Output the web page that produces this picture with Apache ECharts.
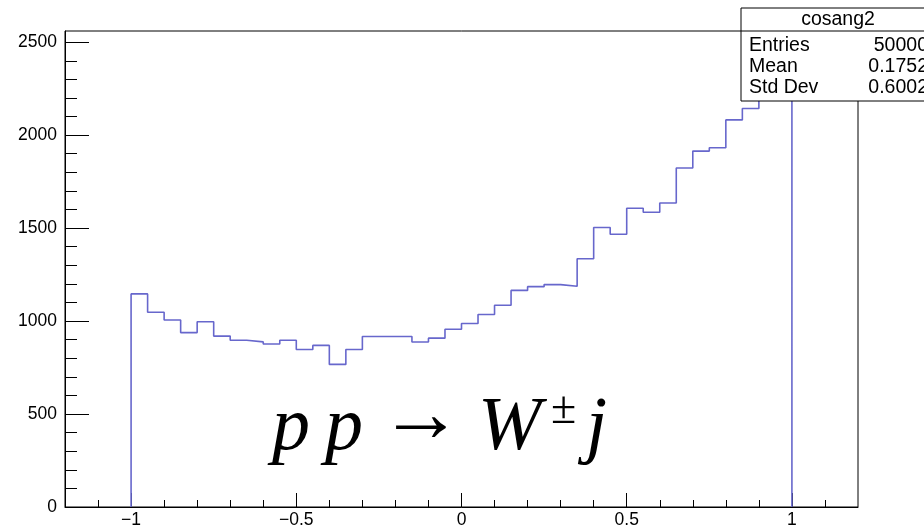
<!DOCTYPE html>
<html>
<head>
<meta charset="utf-8">
<script src="https://cdn.jsdelivr.net/npm/echarts@6/dist/echarts.min.js"></script>
<style>
html,body{margin:0;padding:0;background:#fff;}
#chart{width:924px;height:529px;}
</style>
</head>
<body>
<div id="chart"></div>
<script>
// ---- data ----
const binLow = -1;
const binWidth = 0.05;
const counts = [1146,1047,1006,938,996,919,897,888,877,897,
                847,869,767,847,917,917,917,887,908,956,
                987,1035,1085,1165,1185,1196,1187,1335,1503,1467,
                1607,1585,1635,1823,1914,1932,2082,2143,2254,2437];
const xMajorTicks = [-1, -0.5, 0, 0.5, 1];
const xMinorTicks = [-1.1,-0.9,-0.8,-0.7,-0.6,-0.4,-0.3,-0.2,-0.1,0.1,0.2,0.3,0.4,0.6,0.7,0.8,0.9,1.1];
const yMajorTicks = [0, 500, 1000, 1500, 2000, 2500];
const yMinorTicks = [100,200,300,400,600,700,800,900,1100,1200,1300,1400,1600,1700,1800,1900,2100,2200,2300,2400];
const statsTitle = 'cosang2';
const statsLabels = ['Entries', 'Mean', 'Std Dev'];
const statsValues = ['50000', '0.1752', '0.6002'];

// ---- build ----
const histData = [[binLow, 0]];
counts.forEach((c, i) => histData.push([binLow + i * binWidth, c]));
histData.push([binLow + counts.length * binWidth, counts[counts.length - 1]]);
histData.push([binLow + counts.length * binWidth, 0]);

const fmt = v => (v < 0 ? '\u2212' + (-v) : String(v));
const labelFont = {fontFamily: 'Liberation Sans', fontSize: 17.5, color: '#000'};

const chart = echarts.init(document.getElementById('chart'), null, {renderer: 'canvas'});

const graphics = [];
// stats box
graphics.push({type: 'rect', z: 100, shape: {x: 741, y: 8, width: 195, height: 93},
  style: {fill: '#fff', stroke: '#000', lineWidth: 1}});
graphics.push({type: 'line', z: 101, shape: {x1: 741, y1: 31, x2: 936, y2: 31},
  style: {stroke: '#000', lineWidth: 1}});
graphics.push({type: 'text', z: 102, x: 838, y: 20,
  style: {text: statsTitle, fontFamily: 'Liberation Sans', fontSize: 19.5, fill: '#000', align: 'center', verticalAlign: 'middle'}});
statsLabels.forEach((l, i) => {
  graphics.push({type: 'text', z: 102, x: 749, y: 46 + i * 21,
    style: {text: l, fontFamily: 'Liberation Sans', fontSize: 19.5, fill: '#000', align: 'left', verticalAlign: 'middle'}});
  graphics.push({type: 'text', z: 102, x: 928, y: 46 + i * 21,
    style: {text: statsValues[i], fontFamily: 'Liberation Sans', fontSize: 19.5, fill: '#000', align: 'right', verticalAlign: 'middle'}});
});
// formula
const serifIt = {fontFamily: 'Liberation Serif', fontStyle: 'italic', fontSize: 76, fill: '#000', verticalAlign: 'top'};
graphics.push({type: 'text', z: 50, x: 272, y: 391, style: Object.assign({text: 'p'}, serifIt)});
graphics.push({type: 'text', z: 50, x: 325, y: 391, style: Object.assign({text: 'p'}, serifIt)});
graphics.push({type: 'text', z: 50, x: 379, y: 377, style: {text: '\u2192', fontFamily: 'Liberation Serif', fontSize: 84, fill: '#000', verticalAlign: 'top'}});
graphics.push({type: 'text', z: 50, x: 478, y: 391, style: Object.assign({text: 'W'}, serifIt)});
graphics.push({type: 'text', z: 50, x: 551, y: 388, style: {text: '\u00B1', fontFamily: 'Liberation Serif', fontSize: 46, fill: '#000', verticalAlign: 'top'}});
graphics.push({type: 'text', z: 50, x: 586, y: 391, style: Object.assign({text: 'j'}, serifIt)});

const option = {
  animation: false,
  backgroundColor: '#fff',
  grid: {left: 65, right: 66, top: 31, bottom: 21, show: true, borderColor: '#000', borderWidth: 1, backgroundColor: 'transparent'},
  xAxis: [
    {type: 'value', min: -1.2, max: 1.2, position: 'bottom',
     axisLine: {show: true, onZero: false, lineStyle: {color: '#000', width: 1}},
     axisTick: {show: true, inside: true, length: 14, customValues: xMajorTicks, lineStyle: {color: '#000'}},
     axisLabel: Object.assign({show: true, margin: 4, customValues: xMajorTicks, formatter: fmt}, labelFont),
     splitLine: {show: false}},
    {type: 'value', min: -1.2, max: 1.2, position: 'bottom',
     axisLine: {show: false, onZero: false},
     axisTick: {show: true, inside: true, length: 7, customValues: xMinorTicks, lineStyle: {color: '#000'}},
     axisLabel: {show: false}, splitLine: {show: false}}
  ],
  yAxis: [
    {type: 'value', min: 0, max: 2560, position: 'left',
     axisLine: {show: true, onZero: false, lineStyle: {color: '#000', width: 1}},
     axisTick: {show: true, inside: true, length: 24, customValues: yMajorTicks, lineStyle: {color: '#000'}},
     axisLabel: Object.assign({show: true, margin: 8, customValues: yMajorTicks, formatter: v => String(v)}, labelFont),
     splitLine: {show: false}},
    {type: 'value', min: 0, max: 2560, position: 'left',
     axisLine: {show: false, onZero: false},
     axisTick: {show: true, inside: true, length: 12, customValues: yMinorTicks, lineStyle: {color: '#000'}},
     axisLabel: {show: false}, splitLine: {show: false}}
  ],
  series: [{
    type: 'line', xAxisIndex: 0, yAxisIndex: 0, step: 'end', showSymbol: false, symbol: 'none',
    data: histData, clip: true,
    lineStyle: {color: '#6767cc', width: 1.6}
  }],
  graphic: graphics
};
chart.setOption(option);
</script>
</body>
</html>
